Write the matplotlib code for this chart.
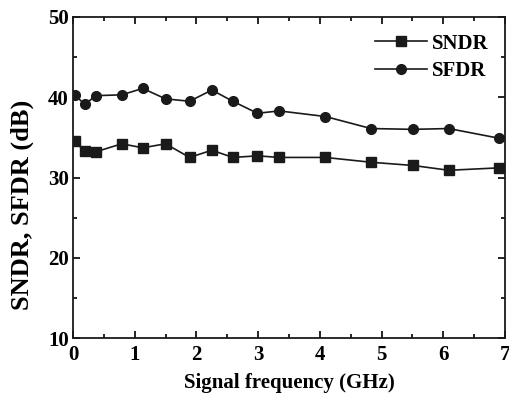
import matplotlib
matplotlib.use("Agg")
import matplotlib.pyplot as plt
from matplotlib.ticker import MultipleLocator

freq = [0.03, 0.19, 0.37, 0.79, 1.13, 1.50, 1.89, 2.25, 2.59, 2.99,
        3.34, 4.09, 4.83, 5.51, 6.09, 6.90]
sndr = [34.5, 33.3, 33.2, 34.2, 33.7, 34.2, 32.5, 33.4, 32.5, 32.7,
        32.5, 32.5, 31.9, 31.5, 30.9, 31.2]
sfdr = [40.3, 39.1, 40.2, 40.3, 41.1, 39.8, 39.5, 40.9, 39.5, 38.0,
        38.3, 37.6, 36.1, 36.0, 36.1, 34.9]

plt.rcParams["font.family"] = ["Liberation Serif", "DejaVu Serif"]
plt.rcParams["font.weight"] = "bold"

fig = plt.figure(figsize=(5.09, 4.00), dpi=100)
ax = fig.add_axes([0.1434, 0.155, 0.8486, 0.8025])

ax.plot(freq, sndr, color="#1a1a1a", marker="s", ms=6.5, lw=1.2, label="SNDR")
ax.plot(freq, sfdr, color="#1a1a1a", marker="o", ms=7, lw=1.2, label="SFDR")

ax.set_xlim(0, 7)
ax.set_ylim(10, 50)
ax.xaxis.set_major_locator(MultipleLocator(1))
ax.xaxis.set_minor_locator(MultipleLocator(0.5))
ax.yaxis.set_major_locator(MultipleLocator(10))
ax.yaxis.set_minor_locator(MultipleLocator(5))
ax.tick_params(which="both", direction="in", top=True, right=True,
               labelsize=15, width=1.2)
ax.tick_params(which="major", length=5)
ax.tick_params(which="minor", length=3)
ax.tick_params(axis="y", pad=3)
ax.tick_params(axis="x", pad=5)
for sp in ax.spines.values():
    sp.set_linewidth(1.3)
    sp.set_color("#1a1a1a")

ax.set_xlabel("Signal frequency (GHz)", fontsize=15, fontweight="bold", labelpad=6)
ax.set_ylabel("SNDR, SFDR (dB)", fontsize=19, fontweight="bold", va="center")
ax.yaxis.set_label_coords(-0.118, 0.414)

ax.legend(loc="upper right", frameon=False, fontsize=15, handlelength=2.5,
          handletextpad=0.2, borderaxespad=0.4, labelspacing=0.35)

fig.savefig("out.png", dpi=100)
